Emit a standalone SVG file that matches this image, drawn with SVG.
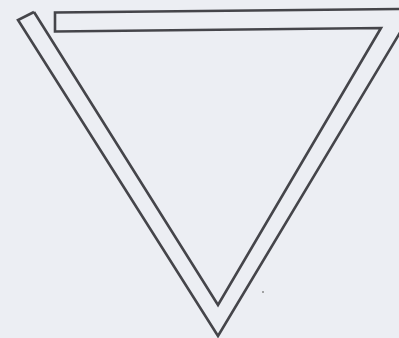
<svg xmlns="http://www.w3.org/2000/svg" width="399" height="338" viewBox="0 0 399 338">
<style>
.edge{fill:none;stroke:#45454a;stroke-width:2.6;stroke-linejoin:miter;stroke-miterlimit:10}
</style>
<rect width="399" height="338" fill="#eceef3"/>
<g id="figure">
<path class="edge" d="M34,12 L18,20 L218,336 L410,16"/>
<path class="edge" d="M34,12 L218,305 L381,28 L55,31.5 L55,12.5 L405,9"/>
</g>
<circle cx="263" cy="292" r="1" fill="#888"/>
</svg>
